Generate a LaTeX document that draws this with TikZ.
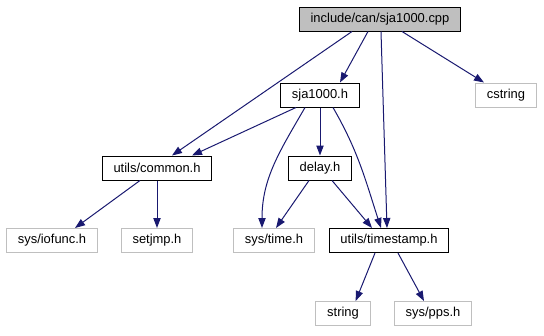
\documentclass[tikz,border=0pt]{standalone}
\usepackage{fontspec}
\setmainfont{Liberation Sans}
\usepackage{tikz}
\usetikzlibrary{arrows.meta}
\definecolor{edgeblue}{HTML}{191970}
\definecolor{extgray}{HTML}{BFBFBF}

\begin{document}
\begin{tikzpicture}[
    x=0.75pt, y=-0.75pt,
    file/.style={draw=black, line width=0.75pt, font=\fontsize{9.7}{11}\selectfont, inner xsep=8.6pt, inner ysep=0pt, minimum height=18pt},
    ext/.style={file, draw=extgray},
    arrow/.style={-{Triangle[length=7.5pt, width=5.5pt]}, edgeblue, line width=0.75pt}
  ]
    \useasboundingbox (0,0) rectangle (544,336);

    % rows of the include graph
    \node[file, fill=extgray] (cpp) at (380,19) {include/can/sja1000.cpp};
    \node[file] (sja)     at (320,95)    {sja1000.h};
    \node[ext]  (cstring) at (506,95)    {cstring};
    \node[file] (common)  at (157,168)   {utils/common.h};
    \node[file] (delay)   at (320,168)   {delay.h};
    \node[ext]  (iofunc)  at (52,240.5)  {sys/iofunc.h};
    \node[ext]  (setjmp)  at (157,240.5) {setjmp.h};
    \node[ext]  (systime) at (274,240.5) {sys/time.h};
    \node[file] (tstamp)  at (389,240.5) {utils/timestamp.h};
    \node[ext]  (string)  at (343,313.5) {string};
    \node[ext]  (pps)     at (433,313.5) {sys/pps.h};

    \draw[arrow] ([xshift=-9pt]cpp.south) -- ([xshift=15pt]sja.north);
    \draw[arrow] ([xshift=-21pt]cpp.south) -- ([xshift=11.25pt]common.north);
    \draw[arrow] ([xshift=0.75pt]cpp.south) -- ([xshift=-1.5pt]tstamp.north);
    \draw[arrow] ([xshift=16.5pt]cpp.south) -- ([xshift=-16.5pt]cstring.north);
    \draw[arrow] ([xshift=-18pt]sja.south) -- ([xshift=26.25pt]common.north);
    \draw[arrow] (sja) -- (delay);
    \draw[arrow] ([xshift=-11.25pt]sja.south) to[out=-120, in=90] ([xshift=-9pt]systime.north);
    \draw[arrow] ([xshift=9.75pt]sja.south) to[out=-60, in=108] ([xshift=-6pt]tstamp.north);
    \draw[arrow] ([xshift=-8.25pt]delay.south) -- ([xshift=1.5pt]systime.north);
    \draw[arrow] ([xshift=9pt]delay.south) -- ([xshift=-12.75pt]tstamp.north);
    \draw[arrow] ([xshift=-12.75pt]common.south) -- ([xshift=17.25pt]iofunc.north);
    \draw[arrow] (common) -- (setjmp);
    \draw[arrow] ([xshift=-10.5pt]tstamp.south) -- ([xshift=9.5pt]string.north);
    \draw[arrow] ([xshift=6.75pt]tstamp.south) -- ([xshift=-6.75pt]pps.north);
\end{tikzpicture}
\end{document}
